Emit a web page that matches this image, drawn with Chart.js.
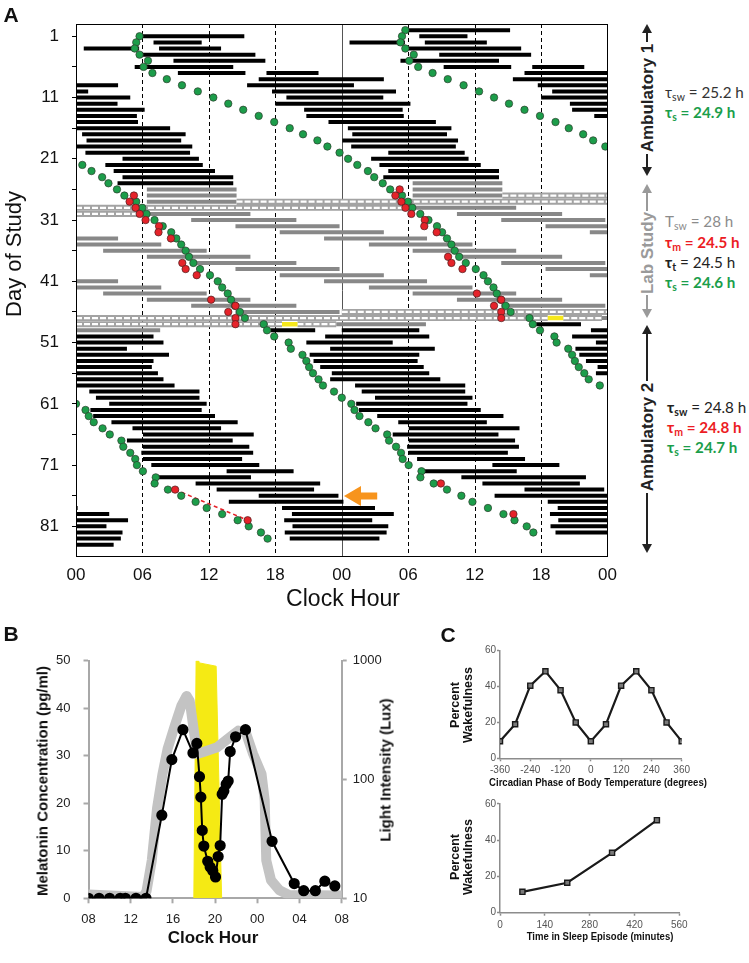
<!DOCTYPE html>
<html><head><meta charset="utf-8">
<script src="https://cdn.jsdelivr.net/npm/chart.js@4.4.1/dist/chart.umd.min.js"></script>
<style>
html,body{margin:0;padding:0;background:#fff;}
#root{position:relative;width:749px;height:963px;overflow:hidden;font-family:'Liberation Sans',Arial,sans-serif;color:#111;}
canvas{position:absolute;}
.t{position:absolute;white-space:nowrap;line-height:1;}
.c{transform:translate(-50%,-50%);}
.r{transform:translate(-50%,-50%) rotate(-90deg);}
.ann{position:absolute;white-space:nowrap;line-height:1;transform:translateY(-50%);font-family:Lato,'Noto Sans',sans-serif;font-size:15.2px;}
.ann sub{font-size:10.5px;vertical-align:-3px;line-height:0;}
.g{color:#1b9e4b;font-weight:bold;}
.rd{color:#ec1c24;font-weight:bold;}
</style></head><body><div id="root">
<canvas id="cA" width="625" height="615" style="left:0;top:0;width:625px;height:615px"></canvas>
<canvas id="cB" width="400" height="290" style="left:0;top:640px;width:400px;height:290px"></canvas>
<canvas id="cC1" width="320" height="170" style="left:420px;top:630px;width:320px;height:170px"></canvas>
<canvas id="cC2" width="320" height="160" style="left:420px;top:785px;width:320px;height:160px"></canvas>

<div class="t c" style="left:11px;top:14px;font-weight:bold;font-size:21px;">A</div>
<div class="t r" style="left:14px;top:254px;font-size:22px;">Day of Study</div>
<div class="t c" style="left:343px;top:598px;font-size:23px;">Clock Hour</div>

<div class="t r" style="left:647px;top:98px;font-weight:bold;font-size:17px;color:#222;">Ambulatory 1</div>
<div class="t r" style="left:647px;top:253px;font-weight:bold;font-size:17px;color:#9a9a9a;">Lab Study</div>
<div class="t r" style="left:647px;top:437px;font-weight:bold;font-size:17px;color:#222;">Ambulatory 2</div>

<div class="ann" style="left:665px;top:93px;color:#333;">τ<sub>sw</sub> = 25.2 h</div>
<div class="ann g" style="left:665px;top:113px;">τ<sub>s</sub> = 24.9 h</div>
<div class="ann" style="left:665px;top:222px;color:#8c8c8c;">T<sub>sw</sub> = 28 h</div>
<div class="ann rd" style="left:665px;top:243px;">τ<sub>m</sub> = 24.5 h</div>
<div class="ann" style="left:665px;top:263px;color:#222;"><b>τ<sub>t</sub></b> = 24.5 h</div>
<div class="ann g" style="left:665px;top:283px;">τ<sub>s</sub> = 24.6 h</div>
<div class="ann" style="left:667px;top:408px;color:#222;"><b>τ<sub>sw</sub></b> = 24.8 h</div>
<div class="ann rd" style="left:667px;top:428px;">τ<sub>m</sub> = 24.8 h</div>
<div class="ann g" style="left:667px;top:448px;">τ<sub>s</sub> = 24.7 h</div>

<div class="t c" style="left:11px;top:633px;font-weight:bold;font-size:21px;">B</div>
<div class="t r" style="left:42px;top:781px;font-weight:bold;font-size:15px;">Melatonin Concentration (pg/ml)</div>
<div class="t r" style="left:385px;top:770px;font-weight:bold;font-size:15px;">Light Intensity (Lux)</div>
<div class="t c" style="left:213px;top:937px;font-weight:bold;font-size:17px;">Clock Hour</div>

<div class="t c" style="left:448px;top:634px;font-weight:bold;font-size:21px;">C</div>
<div class="t r" style="left:455px;top:705px;font-weight:bold;font-size:12.5px;">Percent</div>
<div class="t r" style="left:468px;top:705px;font-weight:bold;font-size:12.5px;">Wakefulness</div>
<div class="t" style="left:598px;top:783px;font-weight:bold;font-size:11.5px;transform:translate(-50%,-50%) scaleX(0.83);">Circadian Phase of Body Temperature (degrees)</div>
<div class="t r" style="left:455px;top:857px;font-weight:bold;font-size:12.5px;">Percent</div>
<div class="t r" style="left:468px;top:857px;font-weight:bold;font-size:12.5px;">Wakefulness</div>
<div class="t" style="left:600px;top:937px;font-weight:bold;font-size:11.5px;transform:translate(-50%,-50%) scaleX(0.83);">Time in Sleep Episode (minutes)</div>
</div>
<script>
// ---------------- Panel A data ----------------
// sleep episodes, ambulatory (black): [day, start hour, end hour]
const sleepAmbulatory = [
 [1,6.0,15.2],[2,7.0,11.35],[3,0.7,5.7],[3,7.5,13.1],[4,6.0,16.2],[5,8.8,17.1],[6,5.3,14.2],
 [7,9.2,15.3],[7,17.2,21.9],[8,16.5,24],[9,0,3.8],[9,15.45,24],[10,0,1.1],[10,17.7,24],
 [11,0,4.9],[11,19.0,24],[12,0,3.75],[12,18.0,24],[13,0,6.2],[13,20.6,24],[14,0,5.5],[14,20.8,24],
 [15,0,5.6],[15,22.8,24],[16,0,8.5],[17,0.55,9.9],[18,0.95,9.5],[19,0.05,10.5],[20,0.85,10.3],
 [21,4.2,11.1],[22,2.65,11.45],[23,3.4,12.55],[24,4.2,14.2],[25,3.75,14.2],
 [49,17.55,21.6],[50,0,7.0],[50,22.5,24],[51,0,7.9],[51,20.8,24],[52,0,4.6],[52,22.95,24],
 [53,0,8.4],[53,21.1,24],[54,0,7.0],[54,21.45,24],[55,0,6.85],[55,22.05,24],[56,0,7.4],[56,23.1,24],
 [57,0,7.9],[57,22.95,24],[58,0,8.9],[59,1.2,11.15],[60,1.8,11.15],[61,3.0,11.8],[62,1.3,11.35],
 [63,1.55,12.55],[64,3.2,14.6],[65,5.1,13.1],[66,6.05,16.05],[67,4.6,14.15],[68,6.05,15.65],
 [69,5.9,16.0],[70,6.05,15.0],[71,6.8,16.55],[72,13.6,19.65],[73,7.4,15.8],[74,10.8,22.05],
 [75,12.7,21.5],[76,16.5,23.7],[77,13.8,24],[78,0,0.15],[78,18.6,24],[79,0,3.0],[79,19.5,24],
 [80,0,4.7],[80,18.8,24],[81,0,2.75],[81,19.55,24],[82,0,4.2],[82,18.85,24],[83,0,4.05],[83,19.3,24],[84,0,3.4]
];
// sleep episodes in the laboratory (gray)
const sleepLab = [
 [26,6.4,14.5],[27,6.4,14.5],[28,6.4,14.5],[30,6.1,15.75],[31,10.4,19.9],[32,14.4,23.8],
 [33,18.4,24],[34,0,3.8],[34,22.4,24],[35,0,7.7],[36,2.45,11.8],[37,6.4,15.75],[38,10.4,19.9],
 [39,14.4,23.8],[40,18.4,24],[41,0,3.8],[41,22.4,24],[42,0,7.7],[43,2.45,11.8],[44,6.4,15.75],
 [45,10.4,19.9],[46,14.4,23.8],[48,23.5,24],[49,0,7.6]
];
// constant routines (hatched bands)
const constantRoutine = [[28,14.5,24],[29,0,24],[30,0,6.1],[47,0,24],[48,0,18.6],[48,20.0,23.5]];
// bright light exposure (yellow)
const lightPulse = [[48,18.6,20.0]];
// green markers: [day, hour]
const sleepMarker = [
 [1,5.74],[2,5.44],[3,5.3],[4,5.74],[5,6.5],[6,6.1],[7,6.9],[8,8.2],[9,9.57],[10,11.0],
 [11,12.4],[12,13.75],[13,15.1],[14,16.5],[15,17.9],[16,19.3],[17,20.5],[18,21.8],[19,22.7],[20,23.8],
 [22,0.57],[23,1.4],[24,2.36],[25,2.93],[26,3.7],[27,4.37],[28,5.44],[29,5.98],[30,6.37],
 [31,7.09],[32,7.83],[33,8.6],[34,9.06],[35,9.5],[36,9.9],[37,10.2],[38,10.6],[39,11.2],[40,12.1],
 [41,12.8],[42,13.2],[43,13.7],[44,14.0],[45,14.35],[46,14.8],[47,15.25],[48,16.95],[49,17.25],[50,17.9],
 [51,19.2],[52,19.4],[53,20.45],[54,20.8],[55,21.05],[56,21.4],[57,21.9],[58,22.3],[59,23.3],
 [61,0.0],[62,0.86],[63,1.15],[64,1.6],[65,2.4],[66,3.05],[67,4.1],[68,4.27],[69,4.9],[70,5.35],
 [71,5.5],[72,6.04],[73,7.2],[74,7.1],[75,8.3],[76,9.5],[77,10.8],[78,11.8],[79,13.2],[80,14.6],
 [81,15.6],[82,16.7],[83,17.3]
];
// red markers: [day, hour]
const melatoninMarker = [
 [27,5.23],[28,4.84],[29,5.38],[30,5.75],[31,6.28],[32,7.5],[33,7.45],[34,8.57],
 [38,9.6],[39,9.9],[40,10.9],[44,12.2],[45,14.4],[46,13.75],[47,14.4],[48,14.4],[75,8.95],[80,15.5]
];
const melatoninTrend = [[75,8.95],[80,15.5]];
const arrowMark = {day:76.05, from:27.2, to:24.2};
const hourTicks = [0,6,12,18,24,30,36,42,48];
const dayTicks = [1,6,11,16,21,26,31,36,41,46,51,56,61,66,71,76,81];

// ---------------- Panel B data ----------------
const clockTicksB = [8,12,16,20,24,28,32];
const melHours = [8.0,9.0,10.0,11.0,11.5,12.5,13.45,14.95,15.9,16.95,17.9,18.27,18.52,18.65,18.78,18.93,19.3,19.53,19.78,20.04,20.29,20.48,20.67,20.83,21.05,21.24,21.43,21.94,22.88,25.4,27.5,28.4,29.5,30.4,31.35];
const melValues = [0,0,0,0,0,0,0,17.5,29.2,35.5,30.6,32.6,25.6,21.3,14.3,11.0,7.8,6.6,5.8,4.5,8.8,11.1,21.9,22.6,24.0,24.7,30.9,34.0,35.5,12.0,3.1,1.6,1.6,3.6,2.6];
const baseHours = [8.0,13.2,13.5,14.0,14.5,15.0,15.5,16.2,16.8,17.3,17.6,18.0,18.3,18.9,20.2,21.4,22.2,22.9,23.6,24.4,24.7,24.85,25.3,26.1,27.0,32.0];
const baseValues = [0.8,0.3,1.5,8,19,26,31.5,36.5,40.5,42.6,41.5,35,30.4,30.8,31.8,33.9,35.3,35.0,30.4,26.2,20.6,8.0,3.8,1.7,0.7,0.6];
const luxHours = [17.98,18.2,18.45,18.5,20.1,20.62];
const luxValues = [10,1000,1000,960,900,10];
const luxTicks = [10,100,1000];
const melTicks = [0,10,20,30,40,50];

// ---------------- Panel C data ----------------
const phaseDeg = [-360,-300,-240,-180,-120,-60,0,60,120,180,240,300,360];
const wakeByPhase = [9.5,19,40.5,48.5,38,20,9.5,19,40.5,48.5,38,20,9.5];
const phaseTicks = [-360,-240,-120,0,120,240,360];
const sleepMinutes = [70,210,350,490];
const wakeBySleep = [11.5,16.5,33,51];
const minuteTicks = [0,140,280,420,560];
const pctTicks = [0,20,40,60];

// ---------------- helpers ----------------
const FONT = "'Liberation Sans', Arial, Helvetica, sans-serif";
Chart.defaults.font.family = FONT;
const pad2 = v => String(((v % 24) + 24) % 24).padStart(2, '0');
const tickSet = arr => (s => { s.ticks = arr.map(v => ({value: v})); });

function doublePlot(list) {
  const pts = [];
  for (const [d, s, e] of list) {
    pts.push({x: s, y: d}, {x: e, y: d}, {x: e, y: null});
    pts.push({x: s + 24, y: d - 1}, {x: e + 24, y: d - 1}, {x: e + 24, y: null});
  }
  return pts;
}
function doublePoints(list) {
  const pts = [];
  for (const [d, h] of list) { pts.push({x: h, y: d}); pts.push({x: h + 24, y: d - 1}); }
  return pts;
}
const segStyle = (color, width, order, extra) => Object.assign({
  showLine: true, borderColor: color, borderWidth: width, pointRadius: 0, pointHitRadius: 0,
  borderCapStyle: 'butt', spanGaps: false, tension: 0, order
}, extra || {});

const base = {responsive: false, animation: false, devicePixelRatio: 1, events: [],
  plugins: {legend: {display: false}, tooltip: {enabled: false}}};

// ---------------- Panel A ----------------
const actoPlugin = {
  id: 'acto',
  beforeDatasetsDraw(chart) {
    const {ctx, chartArea: a, scales: {x}} = chart;
    ctx.save();
    for (const h of hourTicks) {
      if (h === 0 || h === 48) continue;
      const px = Math.round(x.getPixelForValue(h)) + 0.5;
      ctx.beginPath();
      ctx.lineWidth = 1;
      if (h === 24) { ctx.setLineDash([]); ctx.strokeStyle = '#555'; }
      else { ctx.setLineDash([4, 3]); ctx.strokeStyle = '#000'; }
      ctx.moveTo(px, a.top); ctx.lineTo(px, a.bottom); ctx.stroke();
    }
    ctx.restore();
  },
  afterDatasetsDraw(chart) {
    const {ctx, chartArea: a, scales: {x, y}} = chart;
    ctx.save();
    ctx.strokeStyle = '#000'; ctx.lineWidth = 1; ctx.setLineDash([]);
    ctx.strokeRect(Math.round(a.left) + 0.5, Math.round(a.top) + 0.5, Math.round(a.width) - 1, Math.round(a.height) - 1);
    // orange arrow
    const yy = y.getPixelForValue(arrowMark.day);
    const tip = x.getPixelForValue(arrowMark.to), tail = x.getPixelForValue(arrowMark.from);
    const hl = 17, hh = 10, sh = 3.5;
    ctx.fillStyle = '#f7941d';
    ctx.beginPath();
    ctx.moveTo(tip, yy); ctx.lineTo(tip + hl, yy - hh); ctx.lineTo(tip + hl, yy - sh);
    ctx.lineTo(tail, yy - sh); ctx.lineTo(tail, yy + sh); ctx.lineTo(tip + hl, yy + sh);
    ctx.lineTo(tip + hl, yy + hh); ctx.closePath(); ctx.fill();
    ctx.restore();
  }
};

new Chart(document.getElementById('cA'), {
  type: 'scatter',
  data: {datasets: [
    {data: doublePoints(melatoninMarker), order: 1, showLine: false, pointRadius: 3.7,
     pointBackgroundColor: '#e5232a', pointBorderColor: '#4a2020', pointBorderWidth: 0.7},
    {data: doublePoints(sleepMarker), order: 2, showLine: false, pointRadius: 3.7,
     pointBackgroundColor: '#1c9d4a', pointBorderColor: '#2e3e2e', pointBorderWidth: 0.7},
    Object.assign({data: melatoninTrend.map(([d, h]) => ({x: h, y: d}))}, segStyle('#e5232a', 1.6, 3, {borderDash: [4, 3]})),
    Object.assign({data: doublePlot(lightPulse)}, segStyle('#f6e81c', 4.5, 4)),
    Object.assign({data: doublePlot(constantRoutine)}, segStyle('#ffffff', 2.2, 5, {borderDash: [6, 2]})),
    Object.assign({data: doublePlot(constantRoutine)}, segStyle('#a3a3a3', 6, 6)),
    Object.assign({data: doublePlot(sleepAmbulatory)}, segStyle('#000000', 4, 7)),
    Object.assign({data: doublePlot(sleepLab)}, segStyle('#888888', 4, 8))
  ]},
  options: Object.assign({}, base, {
    layout: {padding: {top: 24, right: 14, left: 0, bottom: 0}},
    scales: {
      x: {type: 'linear', min: 0, max: 48, afterBuildTicks: tickSet(hourTicks),
          ticks: {callback: v => pad2(v), font: {size: 17}, color: '#111', padding: 8, maxRotation: 0, autoSkip: false},
          grid: {display: false, drawTicks: false}, border: {display: false},
          afterFit: s => { s.height = 58; }},
      y: {type: 'linear', reverse: true, min: -1, max: 86, afterBuildTicks: tickSet(dayTicks),
          ticks: {callback: v => ((v - 1) % 10 === 0 ? String(v) : ''), font: {size: 17}, color: '#111', padding: 13, autoSkip: false},
          grid: {drawOnChartArea: false, drawTicks: true, tickLength: 4, tickColor: '#000', tickWidth: 1},
          border: {display: false},
          afterFit: s => { s.width = 76; }}
    }
  }),
  plugins: [actoPlugin]
});

// ---------------- Panel B ----------------
const axB = {color: '#a8a8a8', width: 2};
const grB = {drawOnChartArea: false, drawTicks: true, tickLength: 5, tickColor: '#a8a8a8', tickWidth: 2};
new Chart(document.getElementById('cB'), {
  type: 'line',
  data: {datasets: [
    {data: melHours.map((h, i) => ({x: h, y: melValues[i]})), yAxisID: 'yMel', order: 1,
     borderColor: '#000', borderWidth: 2, pointRadius: 4.6, pointBackgroundColor: '#000', pointBorderColor: '#000', tension: 0},
    {data: baseHours.map((h, i) => ({x: h, y: baseValues[i]})), yAxisID: 'yMel', order: 2,
     borderColor: '#c3c3c3', borderWidth: 10, pointRadius: 0, borderJoinStyle: 'round', borderCapStyle: 'round', tension: 0},
    {data: luxHours.map((h, i) => ({x: h, y: luxValues[i]})), yAxisID: 'yLux', order: 3,
     borderColor: '#f5ea14', backgroundColor: '#f5ea14', borderWidth: 1, pointRadius: 0, fill: {value: 10}, tension: 0}
  ]},
  options: Object.assign({}, base, {
    layout: {padding: {top: 20, right: 0, left: 0, bottom: 0}},
    scales: {
      x: {type: 'linear', min: 8, max: 32, afterBuildTicks: tickSet(clockTicksB),
          ticks: {callback: v => pad2(v), font: {size: 13}, color: '#222', padding: 8, maxRotation: 0, autoSkip: false},
          grid: grB, border: axB, afterFit: s => { s.height = 31.7; }},
      yMel: {type: 'linear', position: 'left', min: 0, max: 50, afterBuildTicks: tickSet(melTicks),
          ticks: {font: {size: 13}, color: '#222', padding: 13},
          grid: grB, border: axB, afterFit: s => { s.width = 88.5; }},
      yLux: {type: 'logarithmic', position: 'right', min: 10, max: 1000, afterBuildTicks: tickSet(luxTicks),
          ticks: {callback: v => String(v), font: {size: 13}, color: '#222', padding: 6, autoSkip: false},
          grid: grB, border: axB, afterFit: s => { s.width = 58.3; }}
    }
  })
});

// ---------------- Panel C ----------------
const axC = {color: '#8c8c8c', width: 1.5};
const grC = {drawOnChartArea: false, drawTicks: true, tickLength: 3, tickColor: '#8c8c8c', tickWidth: 1.5};
const lineC = {borderColor: '#1a1a1a', borderWidth: 2.2, pointStyle: 'rect', pointRadius: 3.6,
  pointBackgroundColor: '#7a7a7a', pointBorderColor: '#1a1a1a', pointBorderWidth: 1.4, tension: 0};
function chartC(id, xs, ys, xTicks, xmin, xmax, padTop, padRight, xh, xpad) {
  new Chart(document.getElementById(id), {
    type: 'line',
    data: {datasets: [Object.assign({data: xs.map((v, i) => ({x: v, y: ys[i]}))}, lineC)]},
    options: Object.assign({}, base, {
      layout: {padding: {top: padTop, right: padRight, left: 0, bottom: 0}},
      scales: {
        x: {type: 'linear', min: xmin, max: xmax, afterBuildTicks: tickSet(xTicks),
            ticks: {font: {size: 10}, color: '#555', padding: xpad, maxRotation: 0, autoSkip: false},
            grid: grC, border: axC, afterFit: s => { s.height = xh; }},
        y: {type: 'linear', min: 0, max: 60, afterBuildTicks: tickSet(pctTicks),
            ticks: {font: {size: 10}, color: '#555', padding: 1},
            grid: grC, border: axC, afterFit: s => { s.width = 80; }}
      }
    })
  });
}
chartC('cC1', phaseDeg, wakeByPhase, phaseTicks, -360, 360, 20.7, 58.3, 41.7, 3.4);
chartC('cC2', sleepMinutes, wakeBySleep, minuteTicks, 0, 560, 18.8, 60.7, 32.3, 3.7);

// ---------------- range arrows beside panel A ----------------
function vline(x, y1, y2, color) {
  const d = document.createElement('div');
  d.style.cssText = `position:absolute;left:${x - 1}px;top:${y1}px;width:2px;height:${y2 - y1}px;background:${color};`;
  document.getElementById('root').appendChild(d);
}
function head(x, tipY, up, color) {
  const d = document.createElement('div');
  const top = up ? tipY : tipY - 9;
  d.style.cssText = `position:absolute;left:${x - 5}px;top:${top}px;width:0;height:0;border-left:5px solid transparent;border-right:5px solid transparent;` +
    (up ? `border-bottom:9px solid ${color};` : `border-top:9px solid ${color};`);
  document.getElementById('root').appendChild(d);
}
const rangeArrows = [
  {top: 24, l1: 42, l2: 154, bottom: 176, color: '#222'},
  {top: 184, l1: 211, l2: 295, bottom: 318, color: '#9a9a9a'},
  {top: 325, l1: 381, l2: 493, bottom: 553, color: '#222'}
];
for (const r of rangeArrows) {
  head(647, r.top, true, r.color);
  vline(647, r.top + 8, r.l1, r.color);
  vline(647, r.l2, r.bottom - 8, r.color);
  head(647, r.bottom, false, r.color);
}
</script></body></html>
